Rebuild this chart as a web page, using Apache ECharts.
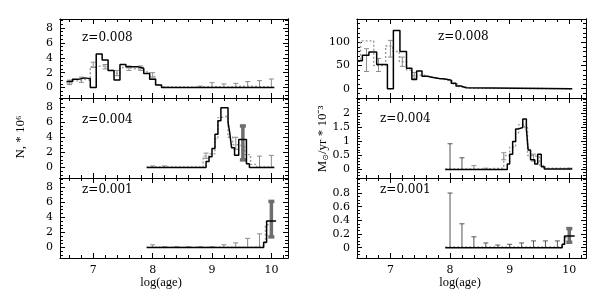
<!DOCTYPE html>
<html><head><meta charset="utf-8">
<script src="https://cdn.jsdelivr.net/npm/echarts@6/dist/echarts.min.js"></script>
<style>html,body{margin:0;padding:0;background:#fff}#c{width:606px;height:307px}</style>
</head><body><div id="c"></div>
<script>
// ---------- tick labels / text ----------
const xMajorTicks = [7, 8, 9, 10];
const leftYTicks = [0, 2, 4, 6, 8];
const r1YTicks = [0, 50, 100];
const r2YTicks = [0, 0.5, 1, 1.5, 2];
const r3YTicks = [0, 0.2, 0.4, 0.6, 0.8];
const panelLabels = ['z=0.008', 'z=0.004', 'z=0.001'];
const xTitle = 'log(age)';

// ---------- left column: N * 10^6 ----------
const L1_blackEdges = [6.55,6.65,6.75,6.85,6.95,7.05,7.15,7.25,7.35,7.45,7.55,7.65,7.75,7.85,7.95,8.05,8.15,10.05];
const L1_blackVals  = [0.8,1.1,1.3,1.2,0,4.5,3.7,2.3,1.0,3.1,2.8,2.8,2.6,1.9,1.1,0.35,0];
const L1_grayEdges  = [6.55,6.65,6.75,6.85,6.95,7.05,7.15,7.25,7.35,7.45,7.55,7.65,7.75,7.85,7.95,8.05,8.15,8.25,8.75,9.05,9.25,9.55,10.05];
const L1_grayVals   = [0.6,0.9,1.1,1.0,2.8,2.9,2.8,2.3,1.9,2.7,2.6,2.5,2.6,2.1,1.5,0.4,0.1,0.05,0.15,0.05,0.2,0.05];
const L1_err = [[6.6,0.4,1.0],[6.8,0.7,1.4],[7.0,2.7,3.4],[7.2,2.5,3.1],[7.4,1.6,2.3],[7.6,2.3,2.9],[7.8,2.3,2.9],[8.0,1.3,2.0],[8.8,0,0.2],[9.0,0,0.66],[9.2,0,0.49],[9.4,0,0.57],[9.6,0,0.8],[9.8,0,0.93],[10.0,0,1.15]];

const L2_blackEdges = [7.9,8.9,8.95,9.0,9.05,9.1,9.15,9.27,9.3,9.33,9.38,9.45,9.58,9.63,10.05];
const L2_blackVals  = [0,0.8,1.4,2.5,4.4,6.2,7.9,6.0,4.5,2.6,1.6,3.7,0.5,0];
const L2_grayEdges  = [7.9,8.85,8.95,9.05,9.1,9.15,9.27,9.35,9.45,9.55,9.65,9.75,10.05];
const L2_grayVals   = [0.05,1.5,1.8,3.8,6.6,6.8,4.0,3.0,2.8,1.7,0.4,0.05];
const L2_err = [[8.0,0,0.2],[8.2,0,0.2],[8.9,1.2,1.9],[9.4,2.4,4.0],[9.8,0,1.5],[10.0,0,1.6]];
const L2_thick = [[9.52,1.0,5.5]];

const L3_blackEdges = [7.9,9.87,9.92,10.08];
const L3_blackVals  = [0,0.7,3.5];
const L3_grayEdges  = [7.9,9.7,9.85,9.9,10.05];
const L3_grayVals   = [0.02,0.2,0.4,3.0];
const L3_err = [[8.0,0,0.35],[8.2,0,0.1],[8.4,0,0.1],[8.6,0,0.1],[8.8,0,0.1],[9.0,0,0.1],[9.2,0,0.35],[9.4,0,0.6],[9.6,0,1.2],[9.8,0,1.8]];
const L3_thick = [[10.0,1.4,6.1]];

// ---------- right column: Msun/yr * 10^-3 ----------
const R1_blackEdges = [6.45,6.53,6.64,6.77,6.95,7.05,7.16,7.27,7.36,7.44,7.53,7.62,7.72,7.82,7.92,8.02,8.1,8.18,8.27,10.05];
const R1_blackVals  = [60,72,79,52,0,125,80,44,20,38,27,24,22,21,18,12,6,2,0];
const R1_grayEdges  = [6.45,6.5,6.72,6.92,7.04,7.15,7.27,7.36,7.45,7.55,7.65,7.75,7.85,7.95,8.05,8.15,8.25,8.35,10.05];
const R1_grayVals   = [60,103,50,92,80,58,40,28,30,26,23,21,19,16,10,4,1,0];
const R1_err = [[6.6,37,86],[6.8,37,65],[7.0,68,104],[7.2,48,68],[7.4,22,35]];

const R2_blackEdges = [7.92,8.96,9.0,9.05,9.1,9.15,9.22,9.28,9.31,9.35,9.42,9.47,9.53,9.58,10.05];
const R2_blackVals  = [0,0.2,0.55,1.0,1.45,1.5,1.8,1.45,0.7,0.35,0.2,0.55,0.1,0.02];
const R2_grayEdges  = [7.92,8.5,8.9,9.0,9.1,9.15,9.25,9.3,9.4,9.5,9.6,10.05];
const R2_grayVals   = [0.02,0.05,0.5,0.8,1.3,1.6,1.5,0.5,0.45,0.15,0.05];
const R2_errDark = [[8.0,0,0.92],[8.2,0,0.42]];
const R2_err = [[8.4,0,0.14],[8.6,0,0.05],[8.9,0.35,0.6],[9.4,0.3,0.55],[10.0,0,0.05]];

const R3_blackEdges = [7.92,9.88,9.92,10.09];
const R3_blackVals  = [0,0.05,0.17];
const R3_grayEdges  = [7.92,9.85,9.92,10.0];
const R3_grayVals   = [0.01,0.03,0.15];
const R3_errDark = [[8.0,0,0.8],[8.2,0,0.35],[8.4,0,0.16],[8.6,0,0.07],[8.8,0,0.04],[9.0,0,0.05],[9.2,0,0.07],[9.4,0,0.1],[9.6,0,0.1],[9.8,0,0.1]];
const R3_thick = [[10.0,0.08,0.28]];

// ---------- layout ----------
const SERIF = 'DejaVu Serif';
const X_MIN = 6.44, X_MAX = 10.28;
const cols = [{left: 60, width: 228}, {left: 357, width: 229}];
const rows = [{top: 19, height: 79}, {top: 98, height: 80}, {top: 178, height: 80}];

const panels = [
  {col:0,row:0,yMin:-1.4,yMax:9.2,yTicks:leftYTicks,yMinor:0.5,black:[L1_blackEdges,L1_blackVals],gray:[L1_grayEdges,L1_grayVals],err:L1_err},
  {col:0,row:1,yMin:-1.4,yMax:9.2,yTicks:leftYTicks,yMinor:0.5,black:[L2_blackEdges,L2_blackVals],gray:[L2_grayEdges,L2_grayVals],err:L2_err,thick:L2_thick},
  {col:0,row:2,yMin:-1.4,yMax:9.2,yTicks:leftYTicks,yMinor:0.5,black:[L3_blackEdges,L3_blackVals],gray:[L3_grayEdges,L3_grayVals],err:L3_err,thick:L3_thick},
  {col:1,row:0,yMin:-20,yMax:150,yTicks:r1YTicks,yMinor:10,black:[R1_blackEdges,R1_blackVals],gray:[R1_grayEdges,R1_grayVals],err:R1_err},
  {col:1,row:1,yMin:-0.3,yMax:2.55,yTicks:r2YTicks,yMinor:0.1,black:[R2_blackEdges,R2_blackVals],gray:[R2_grayEdges,R2_grayVals],err:R2_err,errDark:R2_errDark},
  {col:1,row:2,yMin:-0.15,yMax:1.02,yTicks:r3YTicks,yMinor:0.05,black:[R3_blackEdges,R3_blackVals],gray:[R3_grayEdges,R3_grayVals],errDark:R3_errDark,thick:R3_thick}
];

function minorList(min, max, step, majors) {
  const out = [];
  const start = Math.ceil(min / step - 1e-9);
  for (let k = start; k * step <= max + 1e-9; k++) {
    const v = Math.round(k * step * 1e6) / 1e6;
    if (!majors.some(m => Math.abs(m - v) < 1e-9)) out.push(v);
  }
  return out;
}
const xMinorTicks = minorList(X_MIN, X_MAX, 0.2, xMajorTicks);

function steps(edges, vals) {
  const d = vals.map((v, i) => [edges[i], v]);
  d.push([edges[edges.length - 1], vals[vals.length - 1]]);
  return d;
}
function errRender(color, width, cap) {
  return function (params, api) {
    const x = api.value(0), lo = api.value(1), hi = api.value(2);
    const p1 = api.coord([x, lo]), p2 = api.coord([x, hi]);
    const style = {stroke: color, lineWidth: width, fill: null};
    const ch = [
      {type: 'line', shape: {x1: p1[0], y1: p1[1], x2: p2[0], y2: p2[1]}, style: style},
      {type: 'line', shape: {x1: p2[0] - cap, y1: p2[1], x2: p2[0] + cap, y2: p2[1]}, style: style}
    ];
    if (lo !== 0) ch.push({type: 'line', shape: {x1: p1[0] - cap, y1: p1[1], x2: p1[0] + cap, y2: p1[1]}, style: style});
    return {type: 'group', children: ch};
  };
}

const grid = [], xAxis = [], yAxis = [], series = [];
const lineC = {color: '#000', width: 1};
panels.forEach((p, g) => {
  grid.push({left: cols[p.col].left, width: cols[p.col].width, top: rows[p.row].top, height: rows[p.row].height});
  const xi = xAxis.length, yi = yAxis.length;
  [['bottom', xMajorTicks, 5, true], ['bottom', xMinorTicks, 3, false], ['top', xMajorTicks, 5, false], ['top', xMinorTicks, 3, false]].forEach(([pos, vals, len, main]) => {
    xAxis.push({
      gridIndex: g, type: 'value', min: X_MIN, max: X_MAX, position: pos,
      axisLine: {show: main || pos === 'top', onZero: false, lineStyle: lineC},
      axisTick: {show: true, inside: true, length: len, customValues: vals, lineStyle: lineC},
      axisLabel: {show: main && p.row === 2, customValues: xMajorTicks, margin: 7, fontFamily: SERIF, fontSize: 11, color: '#000'},
      splitLine: {show: false}
    });
  });
  const yMinorTicks = minorList(p.yMin, p.yMax, p.yMinor, p.yTicks);
  [['left', p.yTicks, 5, true], ['left', yMinorTicks, 3, false], ['right', p.yTicks, 5, false], ['right', yMinorTicks, 3, false]].forEach(([pos, vals, len, main]) => {
    yAxis.push({
      gridIndex: g, type: 'value', min: p.yMin, max: p.yMax, position: pos,
      axisLine: {show: main || pos === 'right', onZero: false, lineStyle: lineC},
      axisTick: {show: true, inside: true, length: len, customValues: vals, lineStyle: lineC},
      axisLabel: {show: main, customValues: p.yTicks, margin: 7, fontFamily: SERIF, fontSize: 11, color: '#000'},
      splitLine: {show: false}
    });
  });
  series.push({type: 'line', xAxisIndex: xi, yAxisIndex: yi, step: 'end', symbol: 'none', data: steps(p.gray[0], p.gray[1]),
    lineStyle: {color: '#9a9a9a', width: 1.4, type: [2, 2]}, z: 2});
  if (p.err) series.push({type: 'custom', xAxisIndex: xi, yAxisIndex: yi, encode: {x: 0, y: [1, 2]}, data: p.err,
    renderItem: errRender('#8c8c8c', 1, 2.5), z: 3});
  if (p.errDark) series.push({type: 'custom', xAxisIndex: xi, yAxisIndex: yi, encode: {x: 0, y: [1, 2]}, data: p.errDark,
    renderItem: errRender('#555', 1, 2.5), z: 3});
  if (p.thick) series.push({type: 'custom', xAxisIndex: xi, yAxisIndex: yi, encode: {x: 0, y: [1, 2]}, data: p.thick,
    renderItem: errRender('#6e6e6e', 3.5, 3), z: 4});
  series.push({type: 'line', xAxisIndex: xi, yAxisIndex: yi, step: 'end', symbol: 'none', data: steps(p.black[0], p.black[1]),
    lineStyle: {color: '#000', width: 1.5}, z: 5});
});

const txt = (x, y, s, extra) => Object.assign({type: 'text', x: x, y: y,
  style: Object.assign({text: s, fontFamily: SERIF, fontSize: 12, fill: '#000', verticalAlign: 'middle'}, extra || {})}, {});
const graphic = [
  txt(82, 38, panelLabels[0]), txt(82, 120, panelLabels[1]), txt(82, 190, panelLabels[2]),
  txt(438, 37, panelLabels[0]), txt(380, 119, panelLabels[1]), txt(380, 190, panelLabels[2]),
  txt(161, 283, xTitle, {align: 'center', fontFamily: 'Liberation Serif', fontSize: 12.5}),
  txt(460, 283, xTitle, {align: 'center', fontFamily: 'Liberation Serif', fontSize: 12.5}),
  {type: 'text', x: 21, y: 137, rotation: Math.PI / 2,
    style: {text: 'N, * 10⁶', fontFamily: 'Liberation Serif', fontSize: 13, fill: '#000', align: 'center', verticalAlign: 'middle'}},
  {type: 'text', x: 323, y: 139, rotation: Math.PI / 2,
    style: {text: '{m|M}{s|⊙}{m|/yr * 10⁻³}', fontFamily: 'Liberation Serif', fontSize: 13, fill: '#000', align: 'center', verticalAlign: 'middle',
      rich: {m: {fontFamily: 'Liberation Serif', fontSize: 13, fill: '#000'}, s: {fontFamily: 'DejaVu Sans', fontSize: 8, fill: '#000', verticalAlign: 'bottom', padding: [6, 0, 0, 0]}}}}
];

const chart = echarts.init(document.getElementById('c'), null, {renderer: 'canvas'});
chart.setOption({animation: false, backgroundColor: '#fff', grid, xAxis, yAxis, series, graphic});
</script></body></html>
